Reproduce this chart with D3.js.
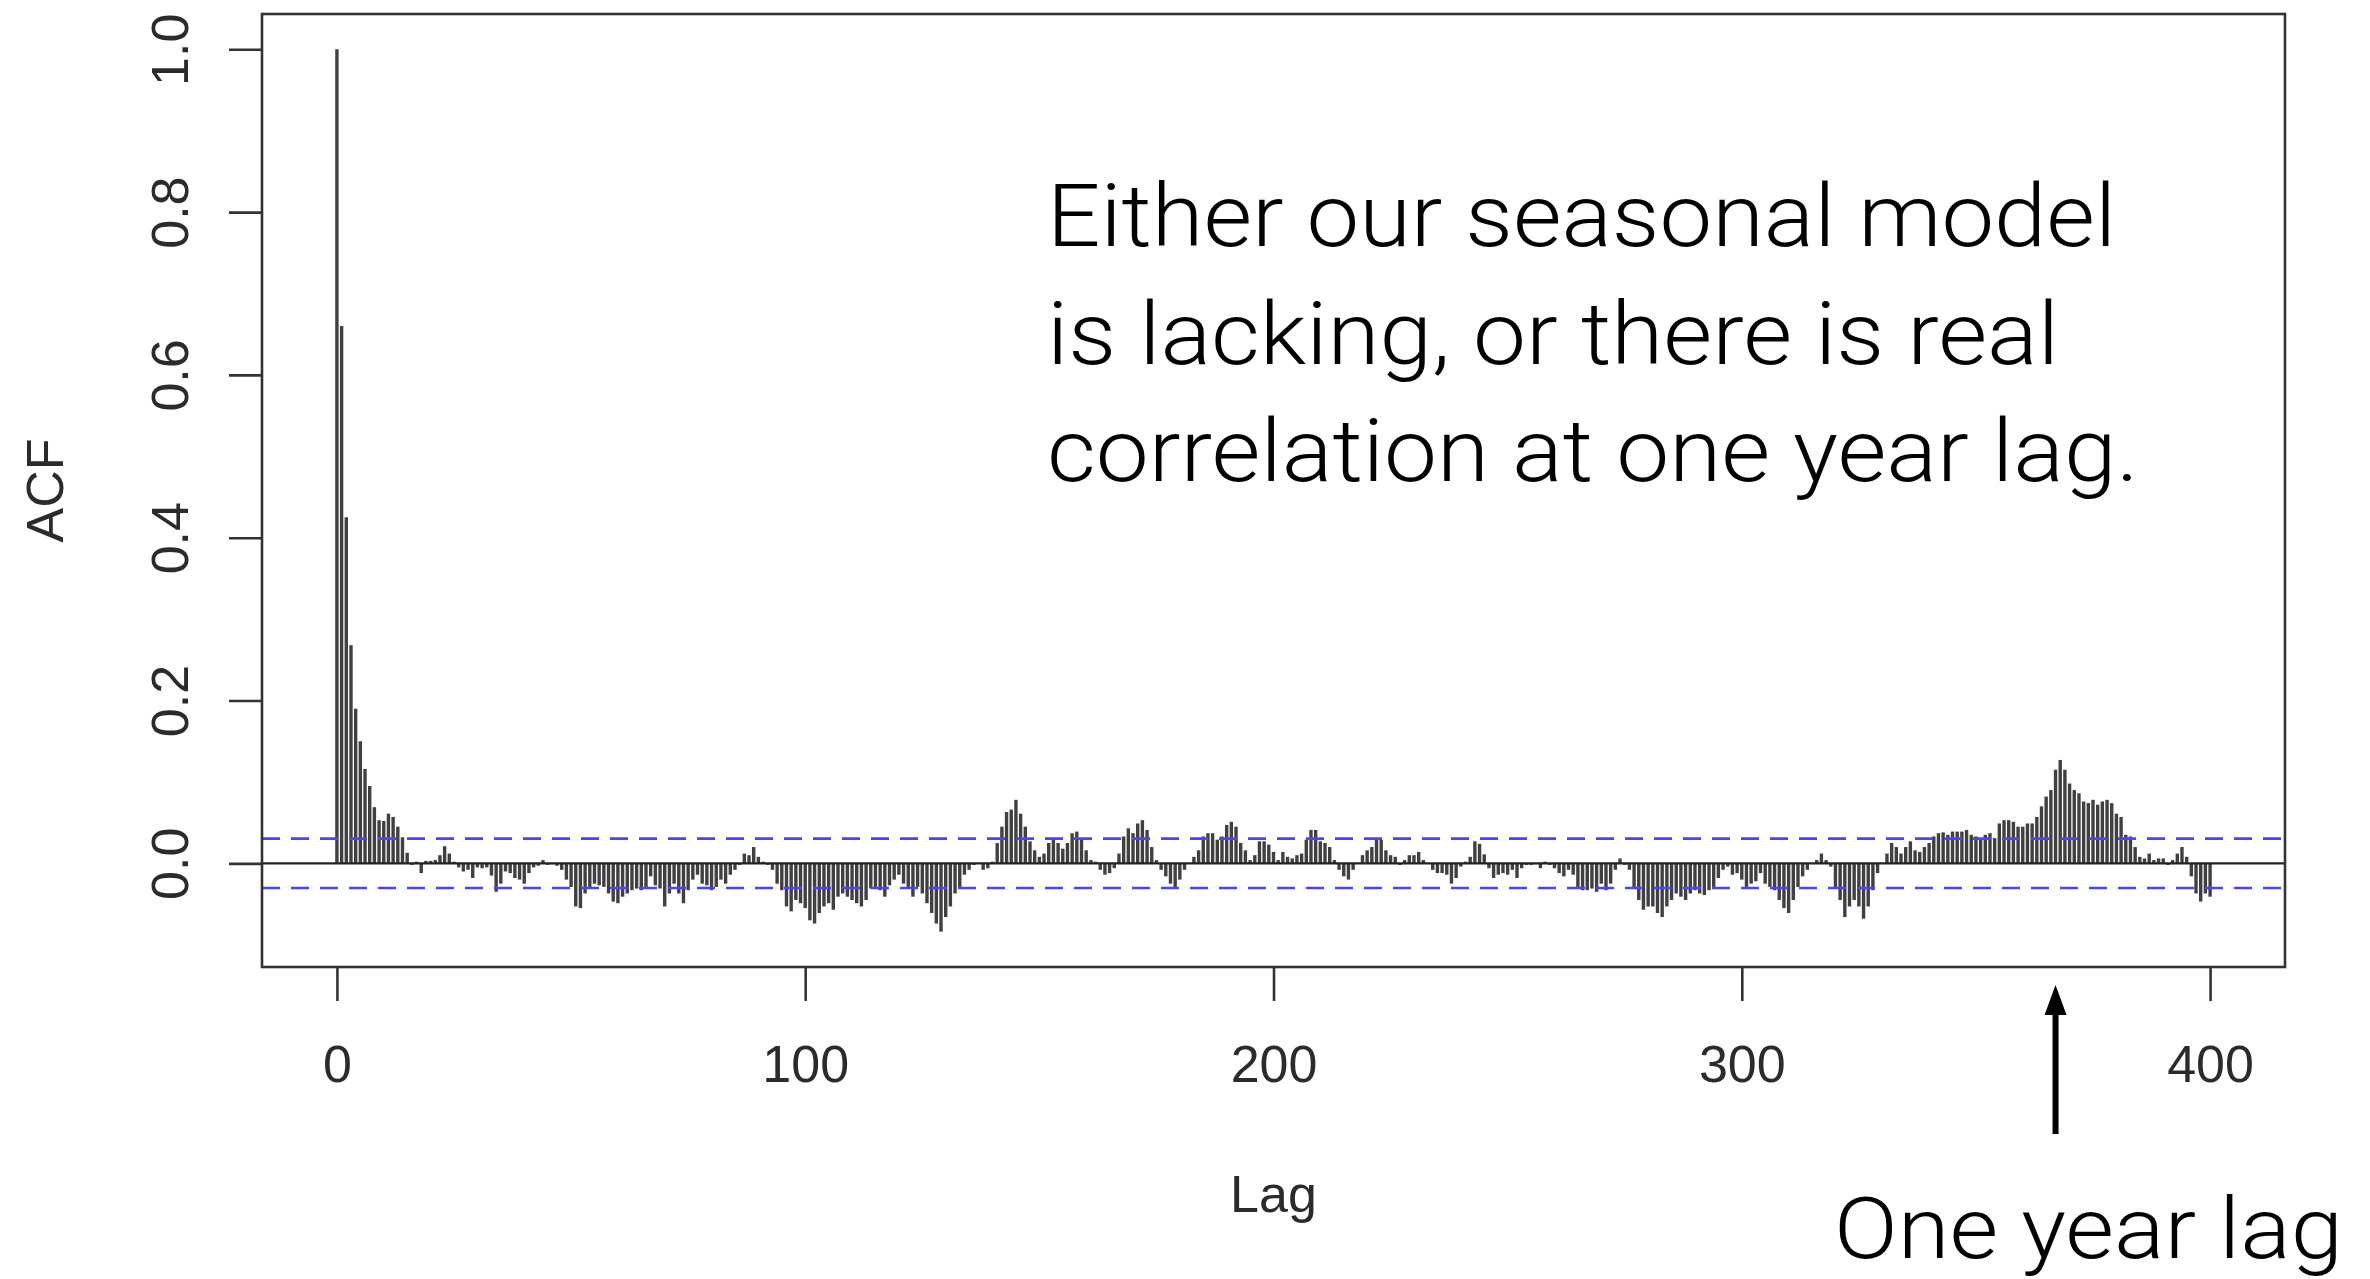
<!DOCTYPE html>
<html>
<head>
<meta charset="utf-8">
<script src="https://cdn.jsdelivr.net/npm/d3@7"></script>
<style>
  html, body { margin: 0; padding: 0; background: #ffffff; }
  svg { display: block; }
</style>
</head>
<body>
<svg id="chart" width="2370" height="1279"></svg>
<script>
// Sample autocorrelation of the residuals, lags 0..400 (one value per lag)
const acf = [
  1.000, 0.660, 0.425, 0.268, 0.190, 0.150, 0.116, 0.095, 0.069, 0.053,
  0.052, 0.061, 0.057, 0.045, 0.032, 0.013, -0.002, 0.002, -0.012, 0.003,
  0.003, 0.004, 0.010, 0.021, 0.012, 0.002, -0.005, -0.010, -0.008, -0.018,
  -0.005, -0.006, -0.005, -0.015, -0.035, -0.025, -0.010, -0.012, -0.018, -0.020,
  -0.025, -0.012, -0.005, -0.003, 0.004, -0.002, -0.001, -0.003, -0.008, -0.020,
  -0.029, -0.053, -0.055, -0.037, -0.029, -0.025, -0.027, -0.029, -0.037, -0.047,
  -0.049, -0.041, -0.037, -0.033, -0.031, -0.033, -0.029, -0.016, -0.027, -0.031,
  -0.053, -0.037, -0.025, -0.037, -0.049, -0.033, -0.020, -0.014, -0.025, -0.027,
  -0.033, -0.029, -0.020, -0.025, -0.014, -0.008, -0.002, 0.012, 0.010, 0.020,
  0.008, 0.002, -0.002, -0.008, -0.025, -0.033, -0.053, -0.059, -0.045, -0.049,
  -0.055, -0.070, -0.074, -0.061, -0.053, -0.049, -0.057, -0.041, -0.037, -0.041,
  -0.045, -0.049, -0.053, -0.045, -0.031, -0.029, -0.033, -0.041, -0.027, -0.020,
  -0.014, -0.025, -0.029, -0.041, -0.029, -0.037, -0.049, -0.061, -0.074, -0.084,
  -0.066, -0.053, -0.037, -0.029, -0.014, -0.008, -0.002, 0.000, -0.008, -0.006,
  0.002, 0.025, 0.045, 0.063, 0.066, 0.078, 0.061, 0.045, 0.027, 0.016,
  0.008, 0.012, 0.025, 0.029, 0.025, 0.018, 0.025, 0.037, 0.039, 0.029,
  0.016, 0.004, 0.002, -0.008, -0.014, -0.012, -0.006, 0.012, 0.033, 0.043,
  0.037, 0.049, 0.053, 0.041, 0.020, 0.004, -0.008, -0.016, -0.025, -0.031,
  -0.020, -0.008, 0.000, 0.008, 0.016, 0.033, 0.037, 0.037, 0.029, 0.033,
  0.047, 0.051, 0.045, 0.025, 0.016, 0.004, 0.010, 0.027, 0.027, 0.023,
  0.014, 0.004, 0.014, 0.008, 0.006, 0.010, 0.012, 0.029, 0.041, 0.041,
  0.027, 0.025, 0.020, 0.004, -0.008, -0.016, -0.020, -0.008, 0.000, 0.010,
  0.016, 0.020, 0.031, 0.029, 0.016, 0.010, 0.008, -0.002, 0.004, 0.010,
  0.010, 0.014, 0.004, 0.000, -0.008, -0.012, -0.012, -0.014, -0.025, -0.018,
  -0.004, 0.002, 0.008, 0.027, 0.024, 0.011, -0.006, -0.018, -0.014, -0.012,
  -0.014, -0.008, -0.018, -0.006, -0.002, -0.002, -0.001, -0.006, 0.002, -0.002,
  -0.006, -0.012, -0.016, -0.008, -0.014, -0.029, -0.033, -0.033, -0.031, -0.035,
  -0.025, -0.033, -0.025, -0.008, 0.006, -0.002, -0.008, -0.029, -0.045, -0.057,
  -0.053, -0.053, -0.061, -0.066, -0.053, -0.045, -0.037, -0.041, -0.045, -0.037,
  -0.033, -0.037, -0.039, -0.033, -0.029, -0.018, -0.008, -0.004, -0.014, -0.012,
  -0.020, -0.029, -0.025, -0.022, -0.012, -0.025, -0.029, -0.033, -0.045, -0.055,
  -0.061, -0.045, -0.029, -0.016, -0.008, 0.000, 0.004, 0.012, 0.004, -0.004,
  -0.029, -0.045, -0.066, -0.053, -0.045, -0.053, -0.068, -0.053, -0.033, -0.012,
  0.000, 0.012, 0.025, 0.020, 0.012, 0.020, 0.027, 0.016, 0.014, 0.020,
  0.025, 0.033, 0.037, 0.038, 0.035, 0.039, 0.039, 0.039, 0.041, 0.035,
  0.033, 0.031, 0.035, 0.037, 0.031, 0.049, 0.053, 0.053, 0.051, 0.045,
  0.045, 0.049, 0.049, 0.057, 0.070, 0.082, 0.090, 0.115, 0.127, 0.115,
  0.098, 0.090, 0.086, 0.076, 0.074, 0.078, 0.072, 0.076, 0.078, 0.074,
  0.061, 0.057, 0.035, 0.033, 0.020, 0.008, 0.006, 0.012, 0.004, 0.006,
  0.006, -0.002, 0.004, 0.012, 0.020, 0.008, -0.016, -0.037, -0.047, -0.037,
  -0.041
];

// Approximate 95% white-noise bound drawn as dashed lines
const ciBound = 0.0303;

const lagTicks = [0, 100, 200, 300, 400];
const acfTicks = [0.0, 0.2, 0.4, 0.6, 0.8, 1.0];

const noteLines = [
  "Either our seasonal model",
  "is lacking, or there is real",
  "correlation at one year lag."
];
const arrowLabel = "One year lag";
const arrowLag = 367;

const svg = d3.select("#chart");

// Plot region (box) in page pixels
const box = { left: 262, right: 2285, top: 14, bottom: 967 };

// Axis ranges padded by 4% like base graphics
const lagExtent = [0, acf.length - 1];
const lagPad = (lagExtent[1] - lagExtent[0]) * 0.04;
const yLo = Math.min(d3.min(acf), -ciBound);
const yHi = Math.max(d3.max(acf), ciBound);
const yPad = (yHi - yLo) * 0.04;

const x = d3.scaleLinear()
  .domain([lagExtent[0] - lagPad, lagExtent[1] + lagPad])
  .range([box.left, box.right]);
const y = d3.scaleLinear()
  .domain([yLo - yPad, yHi + yPad])
  .range([box.bottom, box.top]);

const axisFont = "'Liberation Sans', Arial, Helvetica, sans-serif";
const axisColor = "#2b2b2b";
const fontSize = 52;

// Vertical ACF bars
svg.append("g")
  .attr("class", "bars")
  .selectAll("line")
  .data(acf)
  .join("line")
  .attr("x1", (d, i) => x(i))
  .attr("x2", (d, i) => x(i))
  .attr("y1", y(0))
  .attr("y2", d => y(d))
  .attr("stroke", "#404040")
  .attr("stroke-width", 3.4);

// Zero line
svg.append("line")
  .attr("x1", box.left).attr("x2", box.right)
  .attr("y1", y(0)).attr("y2", y(0))
  .attr("stroke", "#222")
  .attr("stroke-width", 2.4);

// Confidence bounds
svg.append("g")
  .selectAll("line")
  .data([ciBound, -ciBound])
  .join("line")
  .attr("x1", box.left).attr("x2", box.right)
  .attr("y1", d => y(d)).attr("y2", d => y(d))
  .attr("stroke", "#4646ff")
  .attr("stroke-width", 2.6)
  .attr("stroke-dasharray", "18 11");

// Frame
svg.append("rect")
  .attr("x", box.left).attr("y", box.top)
  .attr("width", box.right - box.left)
  .attr("height", box.bottom - box.top)
  .attr("fill", "none")
  .attr("stroke", "#333")
  .attr("stroke-width", 2.6);

// Bottom axis
const xAxis = svg.append("g")
  .attr("transform", `translate(0,${box.bottom})`)
  .call(d3.axisBottom(x).tickValues(lagTicks).tickSize(34).tickPadding(44).tickFormat(d3.format("d")));
xAxis.select(".domain").remove();
xAxis.selectAll(".tick line").attr("stroke", "#333").attr("stroke-width", 2.6);
xAxis.selectAll(".tick text")
  .attr("font-family", axisFont)
  .attr("font-size", fontSize)
  .attr("fill", axisColor);

// Left axis, labels parallel to the axis
const yAxis = svg.append("g")
  .attr("transform", `translate(${box.left},0)`)
  .call(d3.axisLeft(y).tickValues(acfTicks).tickSize(33).tickFormat(d3.format(".1f")));
yAxis.select(".domain").remove();
yAxis.selectAll(".tick line").attr("stroke", "#333").attr("stroke-width", 2.6);
yAxis.selectAll(".tick text")
  .attr("x", null).attr("dy", null)
  .attr("text-anchor", "middle")
  .attr("dominant-baseline", "central")
  .attr("transform", `translate(${170 - box.left},0) rotate(-90)`)
  .attr("font-family", axisFont)
  .attr("font-size", fontSize)
  .attr("fill", axisColor);

// Axis titles
svg.append("text")
  .attr("x", x(200)).attr("y", 1194)
  .attr("text-anchor", "middle")
  .attr("dominant-baseline", "central")
  .attr("font-family", axisFont)
  .attr("font-size", fontSize)
  .attr("fill", axisColor)
  .text("Lag");

svg.append("text")
  .attr("transform", `translate(45,${(box.top + box.bottom) / 2}) rotate(-90)`)
  .attr("text-anchor", "middle")
  .attr("dominant-baseline", "central")
  .attr("font-family", axisFont)
  .attr("font-size", fontSize)
  .attr("fill", axisColor)
  .text("ACF");

// Annotation text
const noteFont = "Roboto, 'Open Sans', 'Liberation Sans', sans-serif";
const noteWidths = [1069, 1012, 1092];
svg.append("g")
  .selectAll("text")
  .data(noteLines)
  .join("text")
  .attr("x", 1047)
  .attr("y", (d, i) => 246 + i * 117.5)
  .attr("font-family", noteFont)
  .attr("font-weight", 300)
  .attr("font-size", 87)
  .attr("fill", "#000")
  .attr("textLength", (d, i) => noteWidths[i])
  .attr("lengthAdjust", "spacingAndGlyphs")
  .text(d => d);

// Arrow pointing at the one-year lag
const ax = x(arrowLag);
const tipY = 985, tailY = 1134, headH = 30, headW = 22;
svg.append("line")
  .attr("x1", ax).attr("x2", ax)
  .attr("y1", tailY).attr("y2", tipY + headH - 2)
  .attr("stroke", "#000")
  .attr("stroke-width", 6);
svg.append("path")
  .attr("d", `M${ax},${tipY} L${ax + headW / 2},${tipY + headH} L${ax - headW / 2},${tipY + headH} Z`)
  .attr("fill", "#000");

svg.append("text")
  .attr("x", 1834)
  .attr("y", 1258)
  .attr("font-family", noteFont)
  .attr("font-weight", 300)
  .attr("font-size", 86)
  .attr("fill", "#000")
  .attr("textLength", 509)
  .attr("lengthAdjust", "spacingAndGlyphs")
  .text(arrowLabel);
</script>
</body>
</html>
